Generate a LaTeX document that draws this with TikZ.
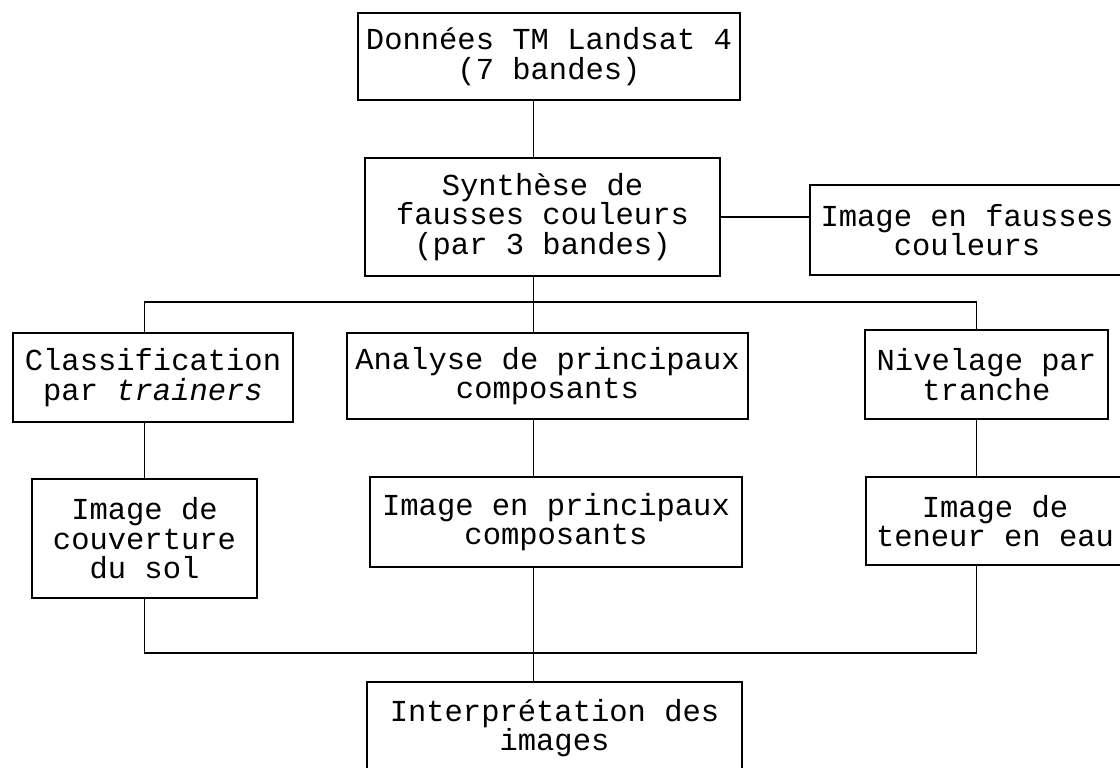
\documentclass[tikz,border=0pt]{standalone}
\usepackage{fontspec}
\setmonofont{Liberation Mono}
\usepackage{tikz}

\begin{document}
\begin{tikzpicture}[x=1pt,y=-1pt,
  box/.style={draw,line width=1.5pt,align=center,inner sep=0pt,
    font=\fontsize{30.5}{29.5}\selectfont\ttfamily},
  link/.style={line width=1.2pt}]
  \useasboundingbox (0,0) rectangle (1120,768);
  % colonnes et niveaux des liaisons
  \coordinate (gauche) at (144.5,0);
  \coordinate (milieu) at (533.5,0);
  \coordinate (droite) at (976.5,0);
  \coordinate (haut) at (0,302);
  \coordinate (bas) at (0,653);

  \node[box,minimum width=382pt,minimum height=87pt] (donnees) at (549,56.5) {Données TM Landsat 4\\(7 bandes)};
  \node[box,minimum width=355pt,minimum height=118pt] (synthese) at (542.5,217) {Synthèse de\\fausses couleurs\\(par 3 bandes)};
  \node[box,minimum width=314pt,minimum height=90pt] (fausses) at (967,230) {Image en fausses\\couleurs};
  \node[box,minimum width=280pt,minimum height=89pt] (classif) at (153,377.5) {Classification\\par \textit{trainers}};
  \node[box,minimum width=401pt,minimum height=86pt] (analyse) at (547.5,376) {Analyse de principaux\\composants};
  \node[box,minimum width=243pt,minimum height=89pt] (nivel) at (986.5,374.5) {Nivelage par\\tranche};
  \node[box,minimum width=225pt,minimum height=119pt] (couverture) at (144.5,538.5) {Image de\\couverture\\du sol};
  \node[box,minimum width=372pt,minimum height=90pt] (principaux) at (556,522) {Image en principaux\\composants};
  \node[box,minimum width=258pt,minimum height=88pt] (teneur) at (995,521) {Image de\\teneur en eau};
  \node[box,minimum width=375pt,minimum height=92pt] (interp) at (554.5,728) {Interprétation des\\images};

  \draw[link] (donnees.south -| milieu) -- (synthese.north -| milieu);
  \draw[link] (synthese.east) -- (synthese.east -| fausses.west);
  \draw[link] (synthese.south -| milieu) -- (haut -| milieu);
  \draw[link] (classif.north -| gauche) |- (haut -| droite) -- (nivel.north -| droite);
  \draw[link] (haut -| milieu) -- (analyse.north -| milieu);
  \draw[link] (classif.south -| gauche) -- (couverture.north -| gauche);
  \draw[link] (analyse.south -| milieu) -- (principaux.north -| milieu);
  \draw[link] (nivel.south -| droite) -- (teneur.north -| droite);
  \draw[link] (couverture.south -| gauche) |- (bas -| droite) -- (teneur.south -| droite);
  \draw[link] (principaux.south -| milieu) -- (interp.north -| milieu);
\end{tikzpicture}
\end{document}
